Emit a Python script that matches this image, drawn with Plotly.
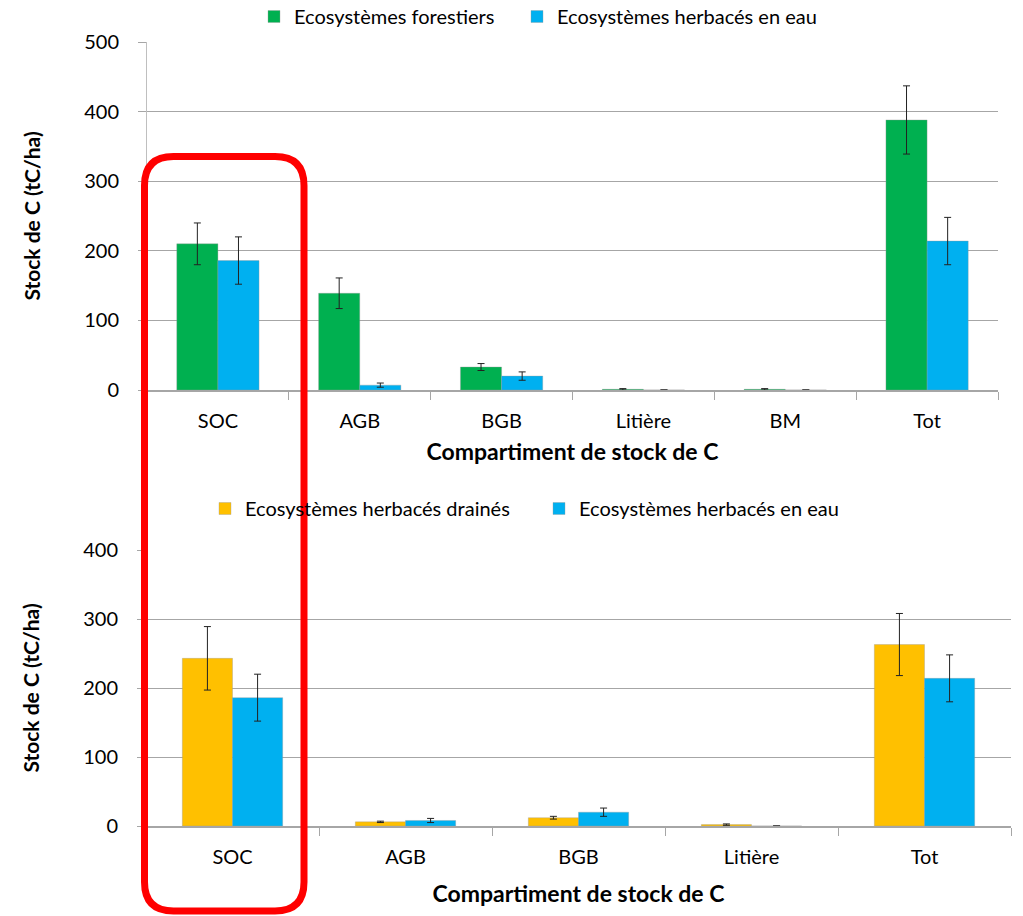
import plotly.graph_objects as go

W, H = 1023, 916

# ---- data ----
cats_top = ["SOC", "AGB", "BGB", "Litière", "BM", "Tot"]
forest = [210, 139, 33, 1, 1, 388]
forest_err = [30, 22, 5, 1, 1, 49]
water_top = [186, 7, 20, 0, 0, 214]
water_top_err = [34, 3, 6, 0, 0, 34]

cats_bot = ["SOC", "AGB", "BGB", "Litière", "Tot"]
drained = [243, 6, 12, 2, 263]
drained_err = [46, 1, 2, 1, 45]
water_bot = [186, 8, 20, 0, 214]
water_bot_err = [34, 3, 6, 0, 34]

GREEN = "#00b050"
BLUE = "#00b0f0"
YELLOW = "#ffc000"
FONT = "Lato, Carlito, Liberation Sans, sans-serif"

def px(x):
    return x / W

def py(y):
    return 1 - y / H

def err(vals):
    return dict(type="data", array=vals, visible=True, color="#222222",
                thickness=1, width=3.5)

fig = go.Figure()
line = dict(color="rgba(150,150,150,0.6)", width=0.6)
fig.add_trace(go.Bar(x=cats_top, y=forest, name="Ecosystèmes forestiers",
                     marker=dict(color=GREEN, line=line), error_y=err(forest_err),
                     xaxis="x", yaxis="y", legend="legend", showlegend=True))
fig.add_trace(go.Bar(x=cats_top, y=water_top, name="Ecosystèmes herbacés en eau",
                     marker=dict(color=BLUE, line=line), error_y=err(water_top_err),
                     xaxis="x", yaxis="y", legend="legend3", showlegend=True))
fig.add_trace(go.Bar(x=cats_bot, y=drained, name="Ecosystèmes herbacés drainés",
                     marker=dict(color=YELLOW, line=line), error_y=err(drained_err),
                     xaxis="x2", yaxis="y2", legend="legend2", showlegend=True))
fig.add_trace(go.Bar(x=cats_bot, y=water_bot, name="Ecosystèmes herbacés en eau",
                     marker=dict(color=BLUE, line=line), error_y=err(water_bot_err),
                     xaxis="x2", yaxis="y2", legend="legend4", showlegend=True))

GRID = "#a6a6a6"
xcommon = dict(type="category", showline=True, linecolor=GRID, linewidth=1.5,
               ticks="outside", tickson="boundaries", ticklen=8, tickcolor=GRID,
               tickfont=dict(size=20, color="#000", family=FONT),
               ticklabelstandoff=12, showgrid=False, zeroline=False,
               automargin=False)
ycommon = dict(showline=True, linecolor="#bfbfbf", linewidth=1, showgrid=True,
               gridcolor=GRID, gridwidth=1, ticks="outside", ticklen=8,
               tickcolor=GRID, dtick=100, zeroline=False,
               tickfont=dict(size=20, color="#000", family=FONT),
               ticklabelstandoff=15, automargin=False)

XT1 = dict(text="<b>Compartiment de stock de C</b>", font=dict(size=23), standoff=13)
XT2 = dict(text="<b>Compartiment de stock de C</b>", font=dict(size=23), standoff=19)
YT = dict(text="<b>Stock de C (tC/ha)</b>", font=dict(size=21), standoff=37)

def leg(xpix, ypix):
    return dict(orientation="h", x=px(xpix), y=py(ypix), xanchor="left",
                yanchor="top", font=dict(size=20), itemwidth=30,
                bgcolor="rgba(0,0,0,0)", visible=True)

fig.update_layout(
    width=W, height=H,
    showlegend=True,
    margin=dict(l=0, r=0, t=0, b=0, autoexpand=False),
    paper_bgcolor="white", plot_bgcolor="white",
    barmode="group", bargap=0.42, bargroupgap=0,
    font=dict(family=FONT, color="#000"),
    xaxis=dict(domain=[px(147), px(998)], anchor="y", title=XT1, **xcommon),
    yaxis=dict(domain=[py(390), py(42)], anchor="x", range=[0, 500],
               title=YT, **ycommon),
    xaxis2=dict(domain=[px(146), px(1011)], anchor="y2", title=XT2, **xcommon),
    yaxis2=dict(domain=[py(826), py(550)], anchor="x2", range=[0, 400],
                title=YT, **ycommon),
    legend=leg(254, -3),
    legend3=leg(517, -3),
    legend2=leg(205, 489),
    legend4=leg(539, 489),
)

# red rounded rectangle highlight
x0, x1, y0, y1, r = 144.5, 304, 156.5, 911, 29
path = (f"M {px(x0)},{py(y0 + r)} "
        f"Q {px(x0)},{py(y0)} {px(x0 + r)},{py(y0)} "
        f"L {px(x1 - r)},{py(y0)} "
        f"Q {px(x1)},{py(y0)} {px(x1)},{py(y0 + r)} "
        f"L {px(x1)},{py(y1 - r)} "
        f"Q {px(x1)},{py(y1)} {px(x1 - r)},{py(y1)} "
        f"L {px(x0 + r)},{py(y1)} "
        f"Q {px(x0)},{py(y1)} {px(x0)},{py(y1 - r)} Z")
fig.add_shape(type="path", xref="paper", yref="paper", path=path,
              line=dict(color="#ff0000", width=7), fillcolor="rgba(0,0,0,0)",
              layer="above")

fig.write_html("out.html", config={"displayModeBar": False},
               post_script="document.body.style.margin='0';document.body.style.overflow='hidden';")
